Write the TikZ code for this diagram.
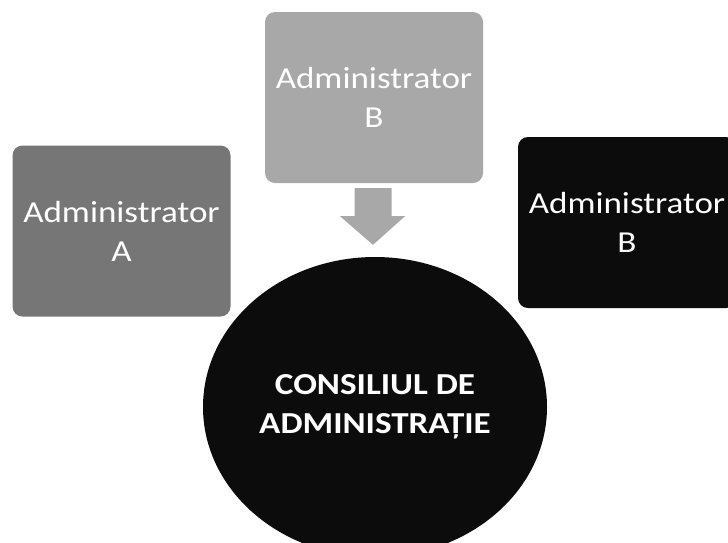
\documentclass[tikz,border=0pt]{standalone}
\usepackage{fontspec}
\setmainfont{Carlito}[FakeStretch=1.15]
\usetikzlibrary{shapes.geometric,calc}
\definecolor{gA}{HTML}{767676}
\definecolor{gB}{HTML}{A8A8A8}
\definecolor{dk}{HTML}{0C0C0C}
\tikzset{
  adminbox/.style={rectangle, rounded corners=10pt, minimum width=218pt, minimum height=171pt,
    inner sep=0pt, text=white, align=center, font=\fontsize{30.5}{39}\selectfont},
  council/.style={ellipse, fill=dk, minimum width=344pt, minimum height=300pt, inner sep=0pt,
    text=white, align=center, font=\bfseries\fontsize{30.5}{39}\selectfont},
  blockarrow/.style={fill=gB}
}
\begin{document}
\begin{tikzpicture}[x=1pt,y=-1pt]
\useasboundingbox (0,0) rectangle (728,542);
\clip (0,0) rectangle (728,542);
\node[adminbox, fill=gA] (a) at (121.5,231) {Administrator\\A};
\node[adminbox, fill=gB] (b) at (374,97.5) {Administrator\\B};
\node[adminbox, fill=dk] (c) at (627,222.5) {Administrator\\B};
\node[council] (cons) at (375,407) {CONSILIUL DE\\ADMINISTRAȚIE};
% block arrow from box B down to the council
\coordinate (arT) at ($(b.south)+(-1,5)$);
\coordinate (arB) at ($(cons.north)+(-2,-12)$);
\fill[blockarrow] ($(arT)+(-18.5,0)$) -- ($(arT)+(18.5,0)$) -- ($(arT)+(18.5,28)$)
  -- ($(arT)+(32,28)$) -- (arB) -- ($(arT)+(-33,28)$) -- ($(arT)+(-18.5,28)$) -- cycle;
\end{tikzpicture}
\end{document}
